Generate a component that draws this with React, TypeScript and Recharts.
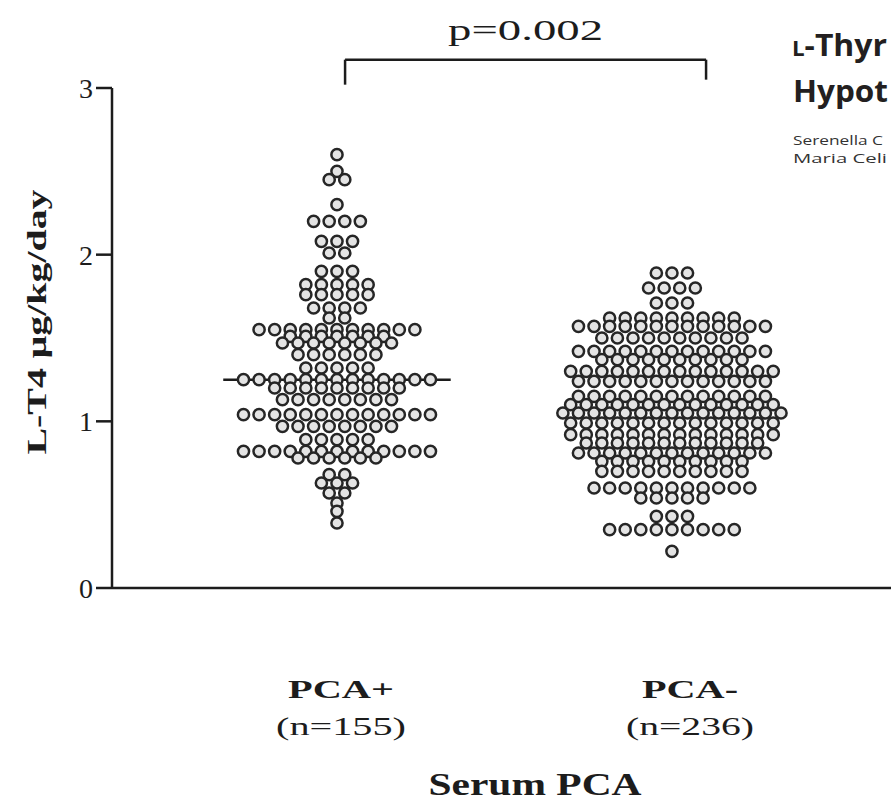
import React from 'react';
import { ScatterChart, Scatter, XAxis, YAxis, ReferenceLine } from 'recharts';

// groups on the x axis
const groupNames = ['PCA+', 'PCA-'];
const groupSizes = ['(n=155)', '(n=236)'];
const groupCenters = [14.44, 35.94];
const labelPositions = [14.7, 37.1];
const groupMeans = [1.25, 1.07];
const yTicks = [0, 1, 2, 3];
const pValue = 'p=0.002';
const bracket = { from: 14.96, to: 38.13, y: 3.17, tickEnd: 3.02 };

// rows of the dot plot: [L-T4 value, number of dots in that row]
const pcaPlusRows: [number, number][] = [
  [2.6, 1], [2.5, 1], [2.45, 2], [2.3, 1], [2.2, 4], [2.08, 3], [2.01, 2],
  [1.9, 3], [1.82, 5], [1.76, 5], [1.68, 4], [1.62, 2], [1.55, 11], [1.51, 7],
  [1.47, 8], [1.4, 6], [1.32, 5], [1.25, 13], [1.2, 9], [1.13, 8], [1.04, 13],
  [0.97, 8], [0.89, 5], [0.82, 13], [0.78, 6], [0.68, 2], [0.63, 3], [0.57, 2],
  [0.51, 1], [0.46, 1], [0.39, 1],
];
const pcaMinusRows: [number, number][] = [
  [1.89, 3], [1.8, 4], [1.71, 3], [1.62, 9], [1.57, 13], [1.5, 10], [1.42, 13],
  [1.37, 10], [1.3, 14], [1.24, 13], [1.15, 13], [1.1, 14], [1.05, 15], [0.99, 14],
  [0.92, 14], [0.87, 12], [0.81, 13], [0.76, 10], [0.7, 10], [0.6, 11], [0.54, 5],
  [0.43, 3], [0.35, 9], [0.22, 1],
];

const DOT_STEP = 1; // x units between neighbouring dots
const MEAN_HALF = 7.3;
const INK = '#1c1c1c';
const SERIF = '"Liberation Serif", "Times New Roman", serif';

const spread = (rows: [number, number][], center: number) =>
  rows.flatMap(([v, n]) =>
    Array.from({ length: n }, (_, i) => ({ x: center + (i - (n - 1) / 2) * DOT_STEP, y: v }))
  );

const plusPoints = spread(pcaPlusRows, groupCenters[0]);
const minusPoints = spread(pcaMinusRows, groupCenters[1]);

const Dot = (props: any) => (
  <circle cx={props.cx} cy={props.cy} r={5.6} fill="#e4e4e4" stroke="#262626" strokeWidth={2.5} />
);

const GroupTick = (props: any) => {
  const { x, y, payload } = props;
  const i = labelPositions.indexOf(payload.value);
  if (i < 0) return null;
  return (
    <g>
      <text x={x} y={y + 102} textAnchor="middle" fontFamily={SERIF} fontWeight="bold" fontSize={26}
        fill={INK} textLength={i === 0 ? 106 : 96} lengthAdjust="spacingAndGlyphs">
        {groupNames[i]}
      </text>
      <text x={x} y={y + 139} textAnchor="middle" fontFamily={SERIF} fontSize={26}
        fill={INK} textLength={i === 0 ? 130 : 128} lengthAdjust="spacingAndGlyphs">
        {groupSizes[i]}
      </text>
    </g>
  );
};

export default function App() {
  return (
    <div style={{ position: 'absolute', left: 0, top: 0, width: 891, height: 801, overflow: 'hidden', background: '#fff' }}>
      <ScatterChart width={891} height={801} margin={{ top: 88, right: 0, bottom: 0, left: 0 }}>
        <XAxis
          type="number"
          dataKey="x"
          domain={[0, 50]}
          allowDataOverflow
          ticks={labelPositions}
          tickLine={false}
          axisLine={{ stroke: INK, strokeWidth: 2.5 }}
          height={213}
          tick={<GroupTick />}
          label={{
            content: () => (
              <text x={535} y={795} textAnchor="middle" fontFamily={SERIF} fontWeight="bold" fontSize={32}
                fill={INK} textLength={213} lengthAdjust="spacingAndGlyphs">
                Serum PCA
              </text>
            ),
          }}
        />
        <YAxis
          type="number"
          dataKey="y"
          domain={[0, 3]}
          ticks={yTicks}
          width={112}
          tickSize={16}
          tickMargin={3}
          axisLine={{ stroke: INK, strokeWidth: 2.5 }}
          tickLine={{ stroke: INK, strokeWidth: 2.5 }}
          tick={{ fontFamily: SERIF, fontSize: 28, fill: INK }}
          label={{
            content: () => (
              <text x={46} y={322} transform="rotate(-90 46 322)" textAnchor="middle" fontFamily={SERIF}
                fontWeight="bold" fontSize={28} fill={INK} textLength={265} lengthAdjust="spacingAndGlyphs">
                L-T4 μg/kg/day
              </text>
            ),
          }}
        />
        <Scatter data={plusPoints} shape={<Dot />} isAnimationActive={false} />
        <Scatter data={minusPoints} shape={<Dot />} isAnimationActive={false} />
        {groupMeans.map((m, i) => (
          <ReferenceLine
            key={'mean' + i}
            segment={[{ x: groupCenters[i] - MEAN_HALF, y: m }, { x: groupCenters[i] + MEAN_HALF, y: m }]}
            stroke={INK}
            strokeWidth={2.5}
          />
        ))}
        <ReferenceLine
          segment={[{ x: bracket.from, y: bracket.y }, { x: bracket.to, y: bracket.y }]}
          stroke={INK}
          strokeWidth={2.5}
          ifOverflow="visible"
          label={{
            content: (p: any) => {
              const vb = p.viewBox || {};
              return (
                <text x={(vb.x ?? 345) + (vb.width ?? 361) / 2} y={(vb.y ?? 60) - 20} textAnchor="middle"
                  fontFamily={SERIF} fontSize={30} fill={INK} textLength={155} lengthAdjust="spacingAndGlyphs">
                  {pValue}
                </text>
              );
            },
          }}
        />
        <ReferenceLine
          segment={[{ x: bracket.from, y: bracket.y }, { x: bracket.from, y: bracket.tickEnd }]}
          stroke={INK}
          strokeWidth={2.5}
          ifOverflow="visible"
        />
        <ReferenceLine
          segment={[{ x: bracket.to, y: bracket.y }, { x: bracket.to, y: bracket.tickEnd + 0.03 }]}
          stroke={INK}
          strokeWidth={2.5}
          ifOverflow="visible"
        />
      </ScatterChart>
      {/* piece of the page behind the figure, cut by the image edge */}
      <svg width={891} height={801} style={{ position: 'absolute', left: 0, top: 0, pointerEvents: 'none' }}>
        <g fontFamily='"Open Sans", "Noto Sans", sans-serif' fill="#231f20">
          <text x={792} y={56} fontWeight="bold" fontSize={30} textLength={95} lengthAdjust="spacingAndGlyphs">
            <tspan fontSize={21}>L</tspan>-Thyr
          </text>
          <text x={793} y={102} fontWeight="bold" fontSize={30} textLength={95} lengthAdjust="spacingAndGlyphs">
            Hypot
          </text>
          <text x={793} y={145} fontSize={13} fill="#333" textLength={90} lengthAdjust="spacingAndGlyphs">
            Serenella C
          </text>
          <text x={793} y={163} fontSize={13} fill="#333" textLength={94} lengthAdjust="spacingAndGlyphs">
            Maria Celi
          </text>
        </g>
      </svg>
    </div>
  );
}
